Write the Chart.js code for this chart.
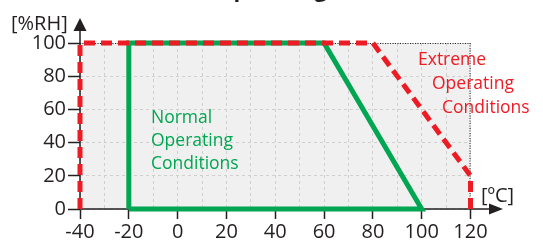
<!DOCTYPE html>
<html>
<head>
<meta charset="utf-8">
<script src="https://cdn.jsdelivr.net/npm/chart.js@4.4.1/dist/chart.umd.min.js"></script>
<style>
  html, body { margin: 0; padding: 0; background: #fff; }
  #wrap { width: 543px; height: 242px; }
</style>
</head>
<body>
<div id="wrap"><canvas id="myChart" width="543" height="242"></canvas></div>
<script>
// temperature [ºC] / humidity [%RH] outlines
var normalTemp = [-20, -20, 60, 100, -20];
var normalRH = [0, 100, 100, 0, 0];
var extremeTemp = [-40, -40, 80, 120, 120];
var extremeRH = [0, 100, 100, 20, 0];

var xTicks = [-40, -20, 0, 20, 40, 60, 80, 100, 120];
var yTicks = [0, 20, 40, 60, 80, 100];

var GREEN = "#00a651";
var RED = "#ed1c24";
var INK = "#231f20";
var FONT = "'Open Sans', sans-serif";

function toPoints(xs, ys) {
    return xs.map(function (x, i) { return { x: x, y: ys[i] }; });
}

var decor = {
    id: "decor",
    beforeDraw: function (chart) {
        var a = chart.chartArea, ctx = chart.ctx;
        ctx.save();
        ctx.fillStyle = "#f0f0f0";
        ctx.fillRect(a.left, a.top, a.right - a.left, a.bottom - a.top);
        ctx.restore();
    },
    beforeDatasetsDraw: function (chart) {
        var ctx = chart.ctx, xs = chart.scales.x, ys = chart.scales.y;
        var x0 = xs.getPixelForValue(-40), x1 = xs.getPixelForValue(120);
        var y0 = ys.getPixelForValue(0), y1 = ys.getPixelForValue(100);
        ctx.save();
        // dotted frame top / right
        ctx.strokeStyle = INK;
        ctx.lineWidth = 1;
        ctx.setLineDash([1, 1.5]);
        ctx.beginPath();
        ctx.moveTo(x0, y1 + 0.5);
        ctx.lineTo(x1, y1 + 0.5);
        ctx.moveTo(x1 - 0.5, y1);
        ctx.lineTo(x1 - 0.5, y0);
        ctx.stroke();
        ctx.setLineDash([]);
        // axes with arrows
        ctx.lineWidth = 1.5;
        ctx.beginPath();
        ctx.moveTo(x0, y0);
        ctx.lineTo(491, y0);
        ctx.moveTo(x0, y0);
        ctx.lineTo(x0, 30);
        ctx.stroke();
        ctx.fillStyle = INK;
        ctx.beginPath();
        ctx.moveTo(503, y0);
        ctx.lineTo(489, y0 - 5.5);
        ctx.lineTo(489, y0 + 5.5);
        ctx.closePath();
        ctx.fill();
        ctx.beginPath();
        ctx.moveTo(x0, 18);
        ctx.lineTo(x0 - 6.5, 31);
        ctx.lineTo(x0 + 6.5, 31);
        ctx.closePath();
        ctx.fill();
        ctx.restore();
    },
    afterDraw: function (chart) {
        var ctx = chart.ctx;
        ctx.save();
        ctx.textBaseline = "alphabetic";
        ctx.fillStyle = INK;
        ctx.font = "bold 22px " + FONT;
        ctx.fillText("Operating Conditions", 216, -3);
        ctx.font = "20px " + FONT;
        ctx.fillText("[%RH]", 11, 30);
        ctx.fillText("[ºC]", 481, 202);
        ctx.font = "17.5px " + FONT;
        ctx.fillStyle = GREEN;
        ctx.fillText("Normal", 151, 123);
        ctx.fillText("Operating", 151, 146);
        ctx.fillText("Conditions", 151, 169);
        ctx.fillStyle = RED;
        ctx.fillText("Extreme", 418, 65);
        ctx.fillText("Operating", 432, 89);
        ctx.fillText("Conditions", 442, 113);
        ctx.restore();
    }
};

new Chart("myChart", {
    type: "scatter",
    data: {
        datasets: [
            {
                label: "Extreme",
                data: toPoints(extremeTemp, extremeRH),
                showLine: true,
                clip: false,
                borderColor: RED,
                borderWidth: 5,
                borderDash: [11, 6],
                pointRadius: 0,
                fill: false
            },
            {
                label: "Normal",
                data: toPoints(normalTemp, normalRH),
                showLine: true,
                clip: false,
                borderColor: GREEN,
                borderWidth: 5,
                borderJoinStyle: "miter",
                pointRadius: 0,
                fill: false
            }
        ]
    },
    options: {
        responsive: false,
        animation: false,
        layout: { padding: { top: 43, right: 72.5, left: 0, bottom: 0 } },
        plugins: {
            legend: { display: false },
            tooltip: { enabled: false },
            title: { display: false }
        },
        scales: {
            x: {
                type: "linear",
                min: -40,
                max: 120,
                afterFit: function (s) { s.height = 33; },
                afterBuildTicks: function (s) {
                    var t = [];
                    for (var v = -40; v <= 120; v += 10) t.push({ value: v });
                    s.ticks = t;
                },
                ticks: {
                    autoSkip: false,
                    maxRotation: 0,
                    padding: 1,
                    color: INK,
                    font: { family: FONT, size: 20 },
                    callback: function (v) { return xTicks.indexOf(v) >= 0 ? String(v) : ""; }
                },
                grid: {
                    color: "#cfcfcf",
                    lineWidth: 1,
                    tickLength: 10,
                    tickWidth: 1.5,
                    tickColor: function (c) {
                        return c.tick && xTicks.indexOf(c.tick.value) >= 0 ? INK : "rgba(0,0,0,0)";
                    }
                },
                border: { display: false, dash: [3, 3] }
            },
            y: {
                type: "linear",
                min: 0,
                max: 100,
                afterFit: function (s) { s.width = 80; },
                afterBuildTicks: function (s) {
                    s.ticks = yTicks.map(function (v) { return { value: v }; });
                },
                ticks: {
                    padding: 2,
                    color: INK,
                    font: { family: FONT, size: 20 }
                },
                grid: {
                    color: "#cfcfcf",
                    lineWidth: 1,
                    tickLength: 12,
                    tickWidth: 1.5,
                    tickColor: INK
                },
                border: { display: false, dash: [3, 3] }
            }
        }
    },
    plugins: [decor]
});
</script>
</body>
</html>
